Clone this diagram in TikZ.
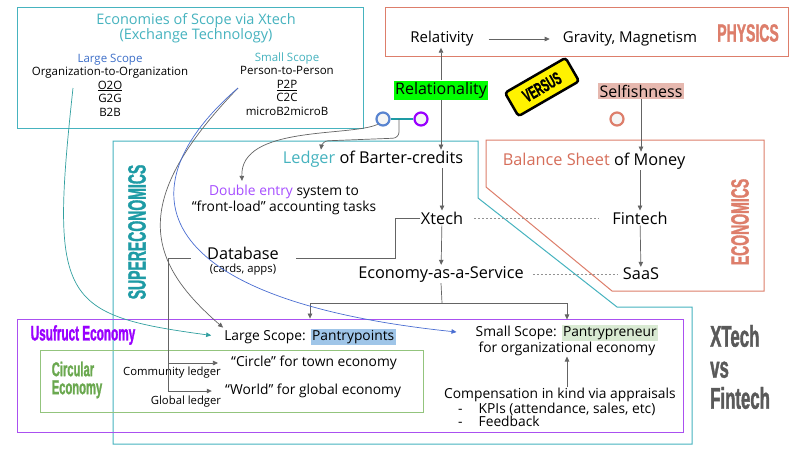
\documentclass[tikz,border=0pt]{standalone}
\usepackage{fontspec}
\setmainfont{Open Sans}
\newfontfamily\headfont{Liberation Sans}[FakeStretch=0.56, FakeBold=1.2]
\usetikzlibrary{arrows.meta}

\definecolor{ScopeTeal}{RGB}{70,179,191}
\definecolor{LargeBlue}{RGB}{60,110,200}
\definecolor{SuperTeal}{RGB}{30,155,165}
\definecolor{PhysRed}{RGB}{221,126,107}
\definecolor{MoneyRed}{RGB}{214,110,90}
\definecolor{RelGreen}{RGB}{0,255,0}
\definecolor{SelfPink}{RGB}{230,184,175}
\definecolor{UsePurple}{RGB}{153,0,255}
\definecolor{BoxPurple}{RGB}{170,80,240}
\definecolor{EntryPurple}{RGB}{166,77,255}
\definecolor{CircGreen}{RGB}{106,168,79}
\definecolor{CircBox}{RGB}{147,196,125}
\definecolor{PointsBlue}{RGB}{159,197,232}
\definecolor{PreneurGreen}{RGB}{217,234,211}
\definecolor{ArrowGrey}{RGB}{100,100,100}
\definecolor{VsGrey}{RGB}{89,89,89}
\definecolor{CurveBlue}{RGB}{74,110,210}
\definecolor{CurveTeal}{RGB}{50,160,160}
\definecolor{VersusYellow}{RGB}{255,242,0}

\tikzset{
  txt/.style={inner sep=1pt, align=center, font=\fontsize{13.8}{16}\selectfont},
  bigtxt/.style={inner sep=1pt, align=center, font=\fontsize{16.3}{18}\selectfont},
  smalltxt/.style={inner sep=1pt, align=center, font=\fontsize{11.3}{12}\selectfont},
  headtxt/.style={inner sep=0pt, align=left, font=\headfont\bfseries\fontsize{25}{26}\selectfont},
  arr/.style={draw=ArrowGrey, line width=0.7pt, -{Triangle[length=5pt,width=4.5pt]}},
  plain/.style={draw=ArrowGrey, line width=0.7pt},
  dashline/.style={draw=ArrowGrey!70, line width=0.7pt, dash pattern=on 2pt off 2pt},
  ring/.style={circle, minimum size=13pt, inner sep=0pt, line width=2.2pt, fill=black!4},
  frame/.style={line width=1pt},
}
\setlength{\fboxsep}{1.5pt}

\begin{document}
\begin{tikzpicture}[x=1pt, y=-1pt]
\useasboundingbox[fill=white] (0,0) rectangle (800,448);

% frames
\draw[frame, ScopeTeal] (17,7) rectangle (363,128);
\draw[frame, PhysRed] (385,7) rectangle (788,56);
\draw[frame, ScopeTeal] (113,141) -- (478,141) -- (478,198) -- (617,307) -- (692,307) -- (692,444) -- (113,444) -- cycle;
\draw[frame, PhysRed] (486,140) -- (764,140) -- (764,291) -- (612,291) -- (486,187) -- cycle;
\draw[frame, BoxPurple] (17,319) rectangle (683,432);
\draw[frame, CircBox] (40,350) rectangle (423,412);

% scope box
\node[txt, text=ScopeTeal, font=\fontsize{14.5}{13}\selectfont] (scopetitle) at (196,28) {Economies of Scope via Xtech\\(Exchange Technology)};
\node[smalltxt, font=\fontsize{11.5}{13.5}\selectfont] (largecol) at (110,85)
  {{\color{LargeBlue}Large Scope}\\Organization-to-Organization\\\underline{O2O}\\G2G\\B2B};
\node[smalltxt, font=\fontsize{11.5}{13.5}\selectfont] (smallcol) at (287,84)
  {{\color{ScopeTeal}Small Scope}\\Person-to-Person\\\underline{P2P}\\C2C\\microB2microB};
\coordinate (lsfoot) at (73,88);
\coordinate (ssfoot) at (238,88);

% physics
\node[txt, font=\fontsize{15}{16}\selectfont] (relat) at (442,39) {Relativity};
\node[txt, font=\fontsize{15}{16}\selectfont] (grav) at (630,39) {Gravity, Magnetism};
\node[headtxt, text=PhysRed] (physics) at (748,33) {PHYSICS};

\node[txt, fill=RelGreen, inner sep=1.5pt, font=\fontsize{16}{18}\selectfont] (rel) at (441,90) {Relationality};
\node[txt, fill=SelfPink, inner sep=1.5pt, font=\fontsize{16}{18}\selectfont] (selfish) at (641,91) {Selfishness};
\node[fill=VersusYellow, draw=black, line width=2.5pt, rounded corners=3pt, rotate=30,
  minimum width=70pt, minimum height=27pt, inner sep=1pt, font=\headfont\bfseries\fontsize{18}{18}\selectfont] (versus) at (542,87) {VERSUS};

\node[ring, draw=LargeBlue!85] (cblue) at (383,119) {};
\node[ring, draw=UsePurple] (cpurp) at (421,119) {};
\node[ring, draw=PhysRed] (cred) at (617,119) {};
\draw[SuperTeal, line width=2pt] (cblue.east) -- (cpurp.west);
\coordinate (linkdrop) at (399,119);

% supereconomics
\node[headtxt, text=SuperTeal, rotate=90] (supereco) at (137,232) {SUPERECONOMICS};
\node[headtxt, text=PhysRed, rotate=90] (eco) at (740,222) {ECONOMICS};

\node[bigtxt] (ledger) at (373,159) {{\color{ScopeTeal}Ledger} of Barter-credits};
\node[txt] (dbl) at (284,200) {{\color{EntryPurple}Double entry} system to\\``front-load'' accounting tasks};
\node[bigtxt] (xtech) at (442,218) {Xtech};
\node[bigtxt] (db) at (243,253) {Database};
\node[smalltxt] (dbnote) at (243,270) {(cards, apps)};
\node[bigtxt] (eaas) at (441,274) {Economy-as-a-Service};
\node[bigtxt] (balance) at (594,161) {{\color{MoneyRed}Balance Sheet} of Money};
\node[bigtxt] (fintech) at (640,218) {Fintech};
\node[bigtxt] (saas) at (641,274) {SaaS};

% usufruct
\node[headtxt, text=UsePurple, font=\headfont\bfseries\fontsize{21}{22}\selectfont] (usufruct) at (83,335) {Usufruct Economy};
\node[headtxt, text=CircGreen, font=\headfont\bfseries\fontsize{20}{18}\selectfont] (circular) at (77,380) {Circular\\Economy};
\node[txt] (large) at (310,337) {Large Scope: \colorbox{PointsBlue}{Pantrypoints}};
\node[txt] (circ) at (314,363) {``Circle'' for town economy};
\node[txt] (world) at (313,391) {``World'' for global economy};
\node[smalltxt] (comm) at (172,373) {Community ledger};
\node[smalltxt] (glob) at (186,402) {Global ledger};
\node[txt] (small) at (567,340) {Small Scope: \colorbox{PreneurGreen}{Pantrypreneur}\\for organizational economy};
\node[txt, align=left, anchor=north west, font=\fontsize{13.8}{13}\selectfont] (comp) at (443,387)
  {Compensation in kind via appraisals\\\hspace*{14pt}-\hspace*{16pt}KPIs (attendance, sales, etc)\\\hspace*{14pt}-\hspace*{16pt}Feedback};
\node[headtxt, text=VsGrey, anchor=west, font=\headfont\bfseries\fontsize{30}{31}\selectfont] (xvf) at (710,367) {XTech\\vs\\Fintech};

% connectors
\draw[arr] (rel.north) -- (rel.north |- relat.south);
\draw[arr, shorten <=14pt, shorten >=12pt] (relat) -- (grav);
\draw[arr] (rel.south) -- (rel.south |- ledger.north);
\draw[arr] (selfish.south) -- (selfish.south |- balance.north);
\draw[arr] (balance.south -| fintech.north) -- (fintech.north);
\draw[arr] (fintech) -- (saas);
\draw[arr] (ledger.south -| xtech.north) -- (xtech.north);
\draw[arr] (xtech) -- (eaas);
\draw[dashline, shorten <=10pt, shorten >=12pt] (xtech) -- (fintech);
\draw[dashline, shorten <=8pt, shorten >=4pt] (eaas) -- (saas);

\coordinate (split) at (442,303);
\draw[plain] (eaas.south) -- (split);
\draw[arr] (split) -| ([yshift=9pt]large.north);
\draw[arr] (split) -| ([yshift=4pt]small.north);
\draw[arr] (comp.north -| small.south) -- (small.south);

\coordinate (dbbend) at (395,258);
\coordinate (dbturn) at (168,258);
\draw[plain, shorten <=16pt] (db.east |- dbbend) -- (dbbend) |- (xtech.west);
\draw[arr, shorten <=15pt, shorten >=12pt] (db.west |- dbturn) -- (dbturn) |- (world.west);
\draw[arr, shorten >=12pt] (dbturn) |- (circ.west);

\draw[arr, rounded corners=6pt] (linkdrop) -- (399,138) -- (322,141) -- ([xshift=-52pt]ledger.north);
\draw[arr] (cblue.south west) .. controls (350,137) and (240,125) .. ([xshift=-42pt,yshift=3pt]dbl.north);

\draw[arr, draw=CurveTeal, shorten >=12pt] (lsfoot) .. controls (50,300) and (60,315) .. (large.west);
\draw[arr] (ssfoot) .. controls (130,200) and (145,260) .. (large.north west);
\draw[arr, draw=CurveBlue] (ssfoot) .. controls (120,190) and (150,300) .. ([xshift=-18pt,yshift=8pt]small.west);
\end{tikzpicture}
\end{document}
